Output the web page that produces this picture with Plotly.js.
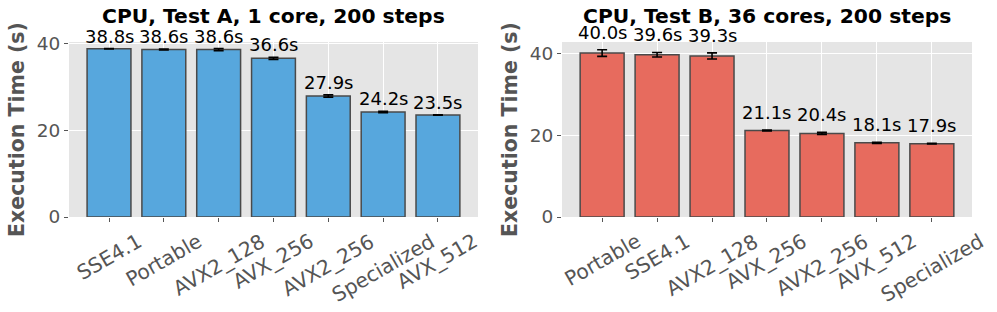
<!DOCTYPE html>
<html>
<head>
<meta charset="utf-8">
<script src="https://cdn.plot.ly/plotly-3.0.1.min.js"></script>
<style>html,body{margin:0;padding:0;background:#fff;}#chart{width:997px;height:312px;}</style>
</head>
<body>
<div id="chart"></div>
<script>
// ---- data ----
const titleA = "CPU, Test A, 1 core, 200 steps";
const catsA = ["SSE4.1", "Portable", "AVX2_128", "AVX_256", "AVX2_256", "Specialized", "AVX_512"];
const timesA = [38.8, 38.6, 38.6, 36.6, 27.9, 24.2, 23.5];
const errsA = [0.05, 0.1, 0.25, 0.25, 0.25, 0.15, 0.05];

const titleB = "CPU, Test B, 36 cores, 200 steps";
const catsB = ["Portable", "SSE4.1", "AVX2_128", "AVX_256", "AVX2_256", "AVX_512", "Specialized"];
const timesB = [40.0, 39.6, 39.3, 21.1, 20.4, 18.1, 17.9];
const errsB = [0.8, 0.55, 0.75, 0.1, 0.25, 0.15, 0.1];

const yTitle = "Execution Time (s)";
const yTicks = [0, 20, 40];

// ---- style ----
const FONT = "DejaVu Sans, sans-serif";
const GREY = "#555555";
const colorA = "#57A7DD";
const colorB = "#E76B5E";

function barTrace(cats, vals, errs, color, xa, ya) {
  return {
    type: "bar", x: cats, y: vals, xaxis: xa, yaxis: ya,
    width: 0.8,
    marker: {color: color, line: {color: "#4a4a4a", width: 1.5}},
    error_y: {type: "data", array: errs, visible: true, color: "#000", thickness: 1.6, width: 5},
    hoverinfo: "x+y", showlegend: false
  };
}

const data = [
  barTrace(catsA, timesA, errsA, colorA, "x", "y"),
  barTrace(catsB, timesB, errsB, colorB, "x2", "y2")
];

const annotations = [];
function panelAnnotations(cats, vals, errs, xref, yref, title, labelShift) {
  // subplot title
  annotations.push({
    text: "<b>" + title + "</b>", xref: xref + " domain", yref: "paper",
    x: 0.5, y: 1, xanchor: "center", yanchor: "bottom", yshift: 12,
    showarrow: false, font: {family: FONT, size: 20.3, color: "#000"}
  });
  cats.forEach((c, i) => {
    // value labels
    annotations.push({
      text: vals[i].toFixed(1) + "s", xref: xref, yref: yref,
      x: c, y: vals[i] + errs[i], xanchor: "center", yanchor: "bottom",
      yshift: labelShift, showarrow: false,
      font: {family: FONT, size: 18, color: "#000"}
    });
    // rotated category labels (centred under the tick)
    annotations.push({
      text: c, xref: xref, yref: "paper",
      x: c, y: 0, xanchor: "center", yanchor: "top", yshift: -9,
      textangle: -30, showarrow: false,
      font: {family: FONT, size: 20.2, color: GREY}
    });
  });
}
panelAnnotations(catsA, timesA, errsA, "x", "y", titleA, 0);
panelAnnotations(catsB, timesB, errsB, "x2", "y2", titleB, 5);

function xAxis(domain, anchor) {
  return {
    domain: domain, anchor: anchor, type: "category",
    range: [-0.73, 6.73], showgrid: true, gridcolor: "#ffffff", gridwidth: 1,
    ticks: "outside", ticklen: 4, tickwidth: 1, tickcolor: GREY,
    showticklabels: false, zeroline: false, showline: false, fixedrange: true
  };
}
function yAxis(range, anchor) {
  return {
    anchor: anchor, range: range, tickvals: yTicks, ticktext: yTicks.map(String),
    showgrid: true, gridcolor: "#ffffff", gridwidth: 1,
    ticks: "outside", ticklen: 4, tickwidth: 1, tickcolor: GREY,
    tickfont: {family: FONT, size: 18.5, color: GREY},
    zeroline: false, showline: false, fixedrange: true,
    title: {text: "<b>" + yTitle + "</b>", font: {family: FONT, size: 20.5, color: GREY}, standoff: 6}
  };
}

const layout = {
  width: 997, height: 312,
  margin: {l: 0, r: 0, t: 42, b: 95, pad: 0},
  paper_bgcolor: "#ffffff", plot_bgcolor: "#E5E5E5",
  font: {family: FONT, color: GREY},
  bargap: 0.2,
  xaxis: xAxis([0.0692, 0.4794], "y"),
  yaxis: yAxis([0, 40.35], "x"),
  xaxis2: xAxis([0.5637, 0.9749], "y2"),
  yaxis2: yAxis([0, 42.7], "x2"),
  annotations: annotations
};

Plotly.newPlot("chart", data, layout, {displayModeBar: false, staticPlot: true});
</script>
</body>
</html>
